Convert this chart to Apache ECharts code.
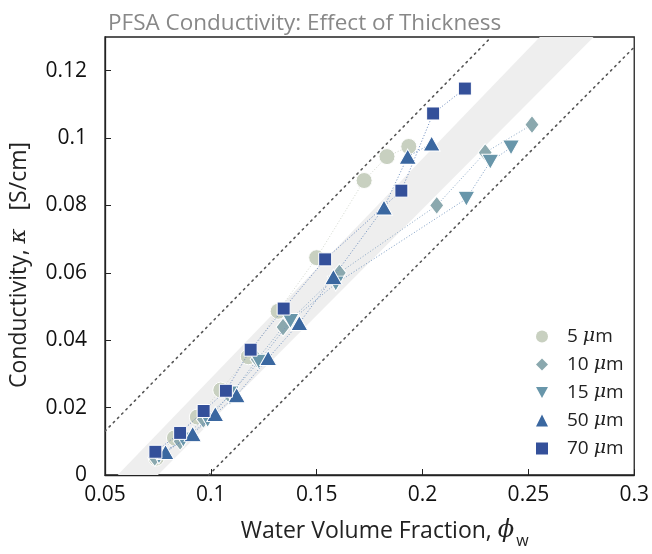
<!DOCTYPE html>
<html>
<head>
<meta charset="utf-8">
<script src="https://cdn.jsdelivr.net/npm/echarts@6/dist/echarts.min.js"></script>
<style>html,body{margin:0;padding:0;background:#fff}#c{width:652px;height:554px}</style>
</head>
<body>
<div id="c"></div>
<script>
// ---- data ----
const seriesNames = ['5 μm', '10 μm', '15 μm', '50 μm', '70 μm'];
const phi5  = [0.0742, 0.0828, 0.0936, 0.1047, 0.1177, 0.1318, 0.150, 0.1724, 0.1832, 0.1935];
const k5    = [0.0050, 0.0110, 0.0172, 0.0252, 0.0351, 0.0486, 0.0645, 0.0874, 0.0945, 0.0975];
const phi10 = [0.0735, 0.0855, 0.0965, 0.1090, 0.1219, 0.1341, 0.1607, 0.2067, 0.2296, 0.2517];
const k10   = [0.0052, 0.0100, 0.0165, 0.0235, 0.0343, 0.0439, 0.0600, 0.0800, 0.0957, 0.1040];
const phi15 = [0.0755, 0.0870, 0.0985, 0.1094, 0.1227, 0.1376, 0.1590, 0.2207, 0.2320, 0.2418];
const k15   = [0.0055, 0.0105, 0.0163, 0.0242, 0.0336, 0.0457, 0.0568, 0.0820, 0.0930, 0.0972];
const phi50 = [0.0786, 0.0914, 0.1021, 0.1122, 0.1271, 0.1418, 0.1579, 0.1818, 0.1930, 0.2043];
const k50   = [0.0068, 0.0122, 0.0181, 0.0237, 0.0347, 0.0451, 0.0588, 0.0794, 0.0945, 0.0984];
const phi70 = [0.0738, 0.0855, 0.0966, 0.1071, 0.1188, 0.1344, 0.1540, 0.1900, 0.2050, 0.2200];
const k70   = [0.0069, 0.0125, 0.0190, 0.0250, 0.0372, 0.0494, 0.0640, 0.0844, 0.1073, 0.1147];
// shaded band (corners) and dotted bounds
const bandPhi = [0.056, 0.075, 0.2808, 0.2554];
const bandK   = [0, 0, 0.13, 0.13];
const upperPhi = [0.05, 0.2325];
const upperK   = [0.0130, 0.13];
const lowerPhi = [0.099, 0.30];
const lowerK   = [0.0, 0.127];
const xTicks = [0.05, 0.1, 0.15, 0.2, 0.25, 0.3];
const yTicks = [0, 0.02, 0.04, 0.06, 0.08, 0.1, 0.12];

const pairs = (xs, ys) => xs.map((x, i) => [x, ys[i]]);
const FONT = '"Open Sans", "Noto Sans", sans-serif';
const MATH = '"DejaVu Serif", serif';

const markerDefs = [
  {phi: phi5,  k: k5,  symbol: 'circle',   size: 16,      rot: 0,   color: '#c8d0c0', line: '#cdd3c9', icon: 'circle'},
  {phi: phi10, k: k10, symbol: 'diamond',  size: [14,18], rot: 0,   color: '#8aa8ae', line: '#7f9fbf', icon: 'diamond'},
  {phi: phi15, k: k15, symbol: 'triangle', size: [17,15], rot: 180, color: '#6896aa', line: '#6f92bd', icon: 'path://M0,0 L10,0 L5,9 Z'},
  {phi: phi50, k: k50, symbol: 'triangle', size: [17,15], rot: 0,   color: '#3a67a0', line: '#5f84b8', icon: 'triangle'},
  {phi: phi70, k: k70, symbol: 'rect',     size: 13,      rot: 0,   color: '#34509a', line: '#5a7bb5', icon: 'path://M0,0 L10,0 L10,10 L0,10 Z'}
];

const series = [];
series.push({
  type: 'custom', name: 'band', silent: true, z: 1, clip: true,
  data: [0],
  renderItem: function (params, api) {
    const pts = bandPhi.map((p, i) => api.coord([p, bandK[i]]));
    return {type: 'polygon', shape: {points: pts}, style: {fill: '#eeeeee'}};
  }
});
series.push({
  type: 'line', name: 'upper', silent: true, z: 2, symbol: 'none',
  data: pairs(upperPhi, upperK),
  lineStyle: {color: '#555', width: 1.6, type: [1.5, 4.5], cap: 'round'}
});
series.push({
  type: 'line', name: 'lower', silent: true, z: 2, symbol: 'none',
  data: pairs(lowerPhi, lowerK),
  lineStyle: {color: '#555', width: 1.6, type: [1.5, 4.5], cap: 'round'}
});
markerDefs.forEach((d, i) => {
  series.push({
    type: 'line', name: seriesNames[i], z: 3 + i,
    data: pairs(d.phi, d.k),
    symbol: d.symbol, symbolSize: d.size, symbolRotate: d.rot,
    showAllSymbol: true,
    itemStyle: {color: d.color, borderColor: '#fff', borderWidth: 1},
    lineStyle: {color: d.line, width: 1, type: [1, 2], opacity: 0.9},
    emphasis: {disabled: true}
  });
});

const chart = echarts.init(document.getElementById('c'), null, {renderer: 'canvas'});
chart.setOption({
  animation: false,
  backgroundColor: '#fff',
  title: {
    text: 'PFSA Conductivity: Effect of Thickness',
    left: 103, top: 7,
    textStyle: {fontFamily: FONT, fontSize: 22.5, fontWeight: 'normal', color: '#888888'}
  },
  grid: {left: 105, right: 14, top: 37, bottom: 79, show: true, borderColor: '#222', borderWidth: 1.3, backgroundColor: 'transparent'},
  legend: {
    orient: 'vertical', left: 531, top: 322,
    itemWidth: 12, itemHeight: 12, itemGap: 9,
    data: seriesNames.map((n, i) => ({name: n, icon: markerDefs[i].icon, itemStyle: {borderWidth: 0}})),
    formatter: function (name) {
      const num = name.split(' ')[0];
      return '{a|' + num + ' }{mu|μ}{a|m}';
    },
    textStyle: {
      fontFamily: FONT, fontSize: 19, color: '#222', padding: [0, 0, 0, 14],
      rich: {
        a: {fontFamily: FONT, fontSize: 19, color: '#222'},
        mu: {fontFamily: MATH, fontStyle: 'italic', fontSize: 19, color: '#222'}
      }
    }
  },
  xAxis: {
    type: 'value', min: 0.05, max: 0.3, interval: 0.05,
    name: '{t|Water Volume Fraction, }{phi|ϕ}{sub|w}',
    nameLocation: 'middle', nameGap: 38,
    nameTextStyle: {
      padding: [0, 0, 0, 30],
      rich: {
        t: {fontFamily: FONT, fontSize: 23, color: '#222'},
        phi: {fontFamily: MATH, fontStyle: 'italic', fontSize: 24, color: '#222'},
        sub: {fontFamily: FONT, fontSize: 16, color: '#222', padding: [20, 0, 0, 2]}
      }
    },
    axisLine: {show: true, lineStyle: {color: '#222', width: 1.3}},
    axisTick: {show: true, inside: true, length: 6, lineStyle: {color: '#222'}},
    axisLabel: {fontFamily: FONT, fontSize: 21, color: '#111', margin: 10,
      formatter: v => String(+v.toFixed(2))},
    splitLine: {show: false}
  },
  yAxis: {
    type: 'value', min: 0, max: 0.13, interval: 0.02,
    name: '{t|Conductivity, }{k|κ}{t|   [S/cm]}',
    nameLocation: 'middle', nameGap: 74, nameRotate: 90,
    nameTextStyle: {
      padding: [0, 18, 0, 0],
      rich: {
        t: {fontFamily: FONT, fontSize: 23, color: '#222'},
        k: {fontFamily: MATH, fontStyle: 'italic', fontSize: 23, color: '#222'}
      }
    },
    axisLine: {show: true, lineStyle: {color: '#222', width: 1.3}},
    axisTick: {show: true, inside: true, length: 6, lineStyle: {color: '#222'}},
    axisLabel: {fontFamily: FONT, fontSize: 21, color: '#111', margin: 18, showMaxLabel: false,
      formatter: v => (v > 0.125 ? '' : String(+v.toFixed(2)))},
    splitLine: {show: false}
  },
  series: series
});
</script>
</body>
</html>
